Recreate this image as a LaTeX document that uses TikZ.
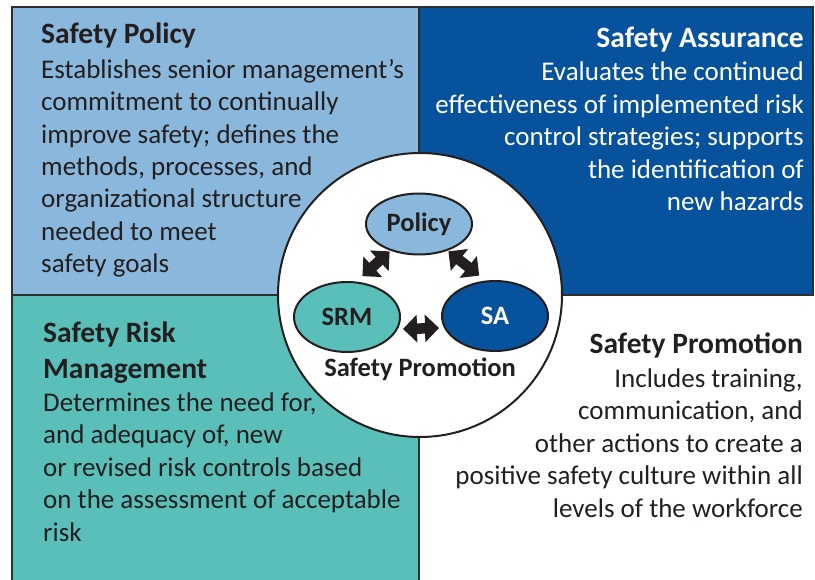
\documentclass[tikz,border=0pt]{standalone}
\usepackage{fontspec}
\setmainfont{Carlito}
\usetikzlibrary{shapes.geometric,arrows.meta,positioning}
\definecolor{polblue}{HTML}{89B8DC}
\definecolor{sablue}{HTML}{06529D}
\definecolor{srmteal}{HTML}{5ABFB9}
\definecolor{ink}{HTML}{231F20}
\definecolor{edge}{HTML}{2E2E2E}
\newcommand{\quadhead}[1]{{\fontsize{29.5}{36}\selectfont\bfseries #1}}

\begin{document}
\begin{tikzpicture}[
  x=1pt, y=-1pt,
  quad/.style={draw=edge, line width=1.5pt},
  blurb/.style={inner sep=0pt, text=ink, font=\fontsize{27}{32.5}\selectfont},
  pillar/.style={ellipse, draw=ink, line width=2pt, inner sep=0pt,
                 minimum width=106pt, minimum height=70pt,
                 font=\fontsize{26.5}{30}\selectfont\bfseries, text=ink},
  twoway/.style={{Triangle[length=14pt,width=27pt]}-{Triangle[length=14pt,width=27pt]},
                 line width=10.5pt, draw=ink}]
  \useasboundingbox (0,0) rectangle (815,580);
  % -- - four quadrants -- -
  \fill[polblue] (12,7) rectangle (419,295);
  \fill[sablue] (419,7) rectangle (813,295);
  \fill[srmteal] (12,295) rectangle (419,590);
  \draw[quad] (12,590) -- (12,7) -- (813,7) -- (813,295) -- (12,295);
  \draw[quad] (419,7) -- (419,590);
  % -- - quadrant texts (placed by their last baseline) -- -
  \node[blurb, align=left, anchor=base west] (poltext) at (41,273)
    {\quadhead{Safety Policy}\\[2pt]
     Establishes senior management’s\\
     commitment to continually\\
     improve safety; defines the\\
     methods, processes, and\\
     organizational structure\\
     needed to meet\\
     safety goals};
  \node[blurb, align=right, anchor=base east, text=white] (satext) at (804,211)
    {\quadhead{Safety Assurance}\\[0.5pt]
     Evaluates the continued\\
     effectiveness of implemented risk\\
     control strategies; supports\\
     the identification of\\
     new hazards};
  \node[blurb, align=left, anchor=base west] (srmtext) at (43,541)
    {\quadhead{Safety Risk}\\[3.5pt]
     \quadhead{Management}\\[0pt]
     Determines the need for,\\
     and adequacy of, new\\
     or revised risk controls based\\
     on the assessment of acceptable\\
     risk};
  \node[blurb, align=right, anchor=base east] (sptext) at (803,517)
    {\quadhead{Safety Promotion}\\[1.5pt]
     Includes training,\\
     communication, and\hspace*{6pt}\\
     other actions to create a\\
     positive safety culture within all\\
     levels of the workforce};
  % -- - centre circle -- -
  \node[circle, draw=ink, fill=white, line width=2pt, inner sep=0pt,
        minimum size=284pt] (hub) at (420,295) {};
  \node[pillar, fill=polblue, minimum height=61pt] (policy) at (419,224) {Policy};
  \node[pillar, fill=srmteal] (srm) at (347,317) {SRM};
  \node[pillar, fill=sablue, text=white] (sa) at (495,316) {SA};
  \node[font=\fontsize{26.5}{30}\selectfont\bfseries, text=ink, anchor=base,
        inner sep=0pt] (promo) at (420,377) {Safety Promotion};
  \draw[twoway, shorten <=1pt, shorten >=8pt] (policy.223) -- (srm.75);
  \draw[twoway, shorten <=1pt, shorten >=8pt] (policy.317) -- (sa.105);
  \draw[twoway, shorten <=2pt, shorten >=2pt]
    ([yshift=-12pt]srm.east) -- ([yshift=-12pt]sa.west);
\end{tikzpicture}
\end{document}
